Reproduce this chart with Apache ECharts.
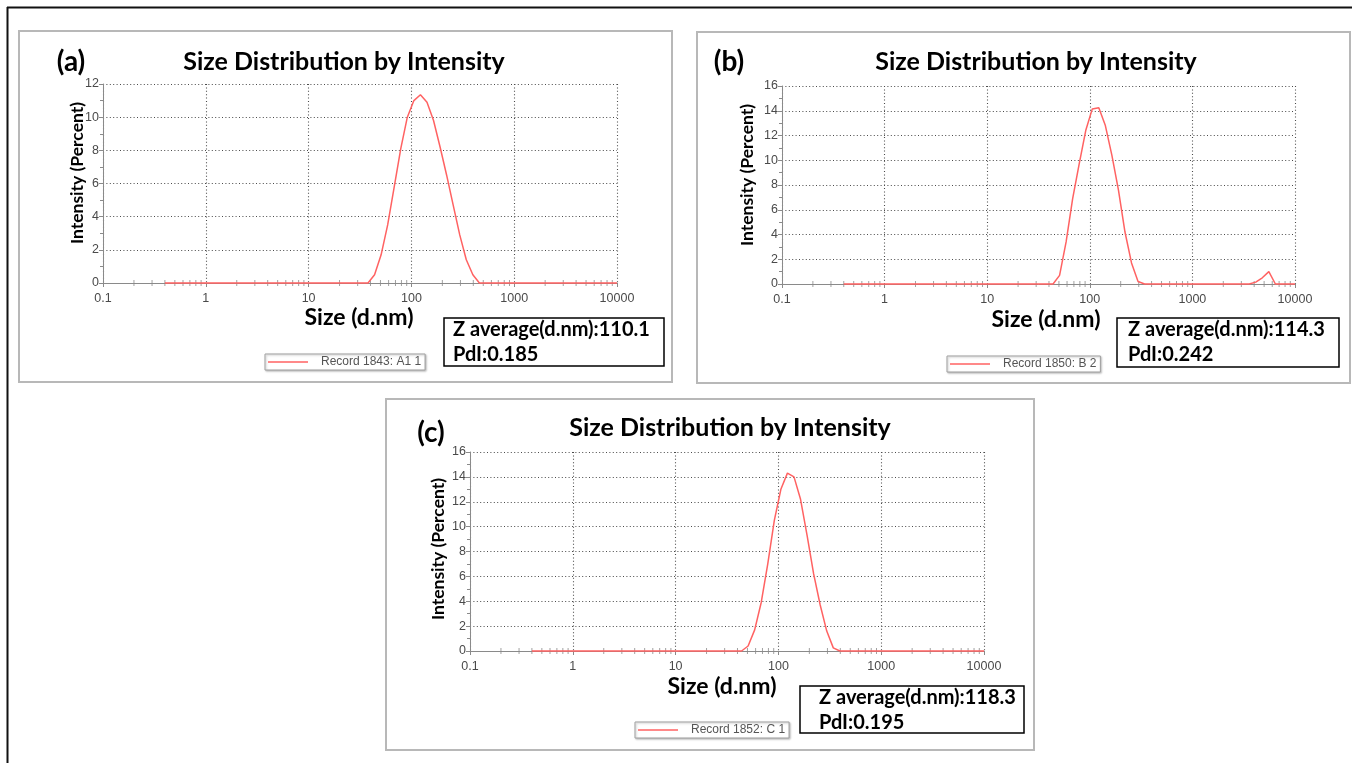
<!DOCTYPE html>
<html>
<head>
<meta charset="utf-8">
<script src="https://cdn.jsdelivr.net/npm/echarts@6/dist/echarts.min.js"></script>
<style>
  html, body { margin: 0; padding: 0; background: #fff; }
  #chart { width: 1352px; height: 763px; }
</style>
</head>
<body>
<div id="chart"></div>
<script>
// Size classes (d.nm) of the DLS intensity distribution
const sizeBins = [
  0.4, 0.4632, 0.5365, 0.6213, 0.7195, 0.8332, 0.9649, 1.117, 1.294, 1.499,
  1.736, 2.010, 2.328, 2.696, 3.122, 3.615, 4.187, 4.849, 5.615, 6.503,
  7.531, 8.721, 10.10, 11.70, 13.54, 15.69, 18.17, 21.04, 24.36, 28.21,
  32.67, 37.84, 43.82, 50.75, 58.77, 68.06, 78.82, 91.28, 105.7, 122.4,
  141.8, 164.2, 190.1, 220.2, 255.0, 295.3, 342.0, 396.1, 458.7, 531.2,
  615.1, 712.4, 825.0, 955.4, 1106, 1281, 1484, 1718, 1990, 2305,
  2669, 3091, 3580, 4145, 4801, 5560, 6439, 7456, 8635, 10000
];

// Intensity (%) per size class
const intensityA = [
  0, 0, 0, 0, 0, 0, 0, 0, 0, 0,
  0, 0, 0, 0, 0, 0, 0, 0, 0, 0,
  0, 0, 0, 0, 0, 0, 0, 0, 0, 0,
  0, 0, 0.5, 1.7, 3.5, 5.8, 8.1, 10.0, 11.0, 11.35,
  10.9, 9.8, 8.2, 6.5, 4.7, 2.9, 1.4, 0.5, 0, 0,
  0, 0, 0, 0, 0, 0, 0, 0, 0, 0,
  0, 0, 0, 0, 0, 0, 0, 0, 0, 0
];
const intensityB = [
  0, 0, 0, 0, 0, 0, 0, 0, 0, 0,
  0, 0, 0, 0, 0, 0, 0, 0, 0, 0,
  0, 0, 0, 0, 0, 0, 0, 0, 0, 0,
  0, 0, 0, 0.7, 3.4, 6.9, 9.7, 12.4, 14.15, 14.25,
  12.8, 10.4, 7.6, 4.2, 1.7, 0.2, 0, 0, 0, 0,
  0, 0, 0, 0, 0, 0, 0, 0, 0, 0,
  0, 0, 0, 0.15, 0.5, 1.0, 0, 0, 0, 0
];
const intensityC = [
  0, 0, 0, 0, 0, 0, 0, 0, 0, 0,
  0, 0, 0, 0, 0, 0, 0, 0, 0, 0,
  0, 0, 0, 0, 0, 0, 0, 0, 0, 0,
  0, 0, 0, 0.4, 1.7, 3.9, 7.0, 10.5, 13.0, 14.3,
  14.0, 12.2, 9.3, 6.2, 3.7, 1.6, 0.25, 0, 0, 0,
  0, 0, 0, 0, 0, 0, 0, 0, 0, 0,
  0, 0, 0, 0, 0, 0, 0, 0, 0, 0
];

const recordNames = ['Record 1843: A1 1', 'Record 1850: B 2', 'Record 1852: C 1'];
const panelLetters = ['(a)', '(b)', '(c)'];
const chartTitle = 'Size Distribution by Intensity';
const xAxisTitle = 'Size (d.nm)';
const yAxisTitle = 'Intensity (Percent)';
const zAverages = ['Z average(d.nm):110.1', 'Z average(d.nm):114.3', 'Z average(d.nm):118.3'];
const pdiValues = ['PdI:0.185', 'PdI:0.242', 'PdI:0.195'];
const yMaxes = [12, 16, 16];
const seriesValues = [intensityA, intensityB, intensityC];

// Layout of the three panels (pixels)
const panels = [
  { grid: { left: 103, top: 84, width: 514, height: 199 },
    box: [19, 31, 653, 351], letter: [71, 62], title: [344, 62],
    yName: [77, 173], xName: [359, 318],
    zBox: [444, 318, 220, 48], zText: 453,
    legend: { left: 265, top: 354 } },
  { grid: { left: 782, top: 86, width: 513, height: 198 },
    box: [697, 32, 653, 351], letter: [729, 62], title: [1036, 62],
    yName: [747, 175], xName: [1046, 320],
    zBox: [1117, 318, 222, 49], zText: 1128,
    legend: { left: 947, top: 356 } },
  { grid: { left: 470, top: 452, width: 514, height: 199 },
    box: [386, 399, 648, 351], letter: [431, 433], title: [730, 428],
    yName: [438, 549], xName: [722, 687],
    zBox: [800, 686, 224, 47], zText: 819,
    legend: { left: 635, top: 722 } }
];

const boldFont = 'Lato, "Open Sans", sans-serif';
const tickFont = '"Liberation Sans", Arial, sans-serif';
const curveColor = '#ff6262';
const axisGray = '#8a8a8a';
const gridDots = { color: '#4a4a4a', type: [1, 2.4], width: 1.1 };

// Minor ticks at 2..9 within each decade of the size axis
const minorTickSizes = [];
for (let d = 0.1; d < 10000; d *= 10) {
  for (let k = 2; k <= 9; k++) minorTickSizes.push([+(k * d).toPrecision(4), 0]);
}

const grids = [], xAxes = [], yAxes = [], series = [], legends = [], graphics = [];

// Page frame
graphics.push({ type: 'line', shape: { x1: 7, y1: 7.5, x2: 1352, y2: 7.5 }, style: { stroke: '#111', lineWidth: 2 } });
graphics.push({ type: 'line', shape: { x1: 7.5, y1: 7, x2: 7.5, y2: 763 }, style: { stroke: '#111', lineWidth: 2 } });

panels.forEach((p, i) => {
  grids.push(Object.assign({ containLabel: false }, p.grid));

  xAxes.push({
    type: 'log', logBase: 10, gridIndex: i, min: 0.1, max: 10000,
    axisLine: { show: true, lineStyle: { color: axisGray, width: 1 } },
    axisTick: { show: true, length: 4, lineStyle: { color: axisGray } },
    axisLabel: {
      color: '#4a4a4a', fontSize: 12.5, fontFamily: tickFont, margin: 9,
      formatter: v => String(+(+v).toPrecision(6))
    },
    splitLine: { show: true, lineStyle: gridDots }
  });

  yAxes.push({
    type: 'value', gridIndex: i, min: 0, max: yMaxes[i], interval: 2,
    axisLine: { show: true, lineStyle: { color: axisGray, width: 1 } },
    axisTick: { show: true, length: 4, lineStyle: { color: axisGray } },
    minorTick: { show: true, splitNumber: 2, length: 3, lineStyle: { color: axisGray } },
    axisLabel: { color: '#4a4a4a', fontSize: 12.5, fontFamily: tickFont, margin: 4 },
    splitLine: { show: true, lineStyle: gridDots }
  });

  series.push({
    type: 'scatter', xAxisIndex: i, yAxisIndex: i, data: minorTickSizes,
    symbol: 'rect', symbolSize: [1, 6], itemStyle: { color: axisGray },
    silent: true, z: 1, animation: false
  });

  series.push({
    name: recordNames[i], type: 'line', xAxisIndex: i, yAxisIndex: i,
    data: sizeBins.map((s, k) => [s, seriesValues[i][k]]),
    symbol: 'none', smooth: false, clip: false,
    lineStyle: { color: curveColor, width: 1.5 },
    itemStyle: { color: curveColor },
    z: 3, animation: false
  });

  legends.push({
    data: [{ name: recordNames[i], icon: 'rect' }],
    left: p.legend.left, top: p.legend.top,
    itemWidth: 40, itemHeight: 1.5, itemGap: 0,
    padding: [2, 4, 2, 3],
    backgroundColor: '#fff', borderColor: '#a0a0a0', borderWidth: 1,
    shadowColor: 'rgba(0,0,0,0.25)', shadowBlur: 2, shadowOffsetX: 1, shadowOffsetY: 1,
    selectedMode: false,
    textStyle: { fontSize: 12, color: '#555', fontFamily: tickFont, padding: [0, 0, 0, 8] }
  });

  // Panel frame
  graphics.push({
    type: 'rect', z: -10,
    shape: { x: p.box[0], y: p.box[1], width: p.box[2], height: p.box[3] },
    style: { fill: '#fff', stroke: '#b8b8b8', lineWidth: 2 }
  });
  // Panel letter and title
  graphics.push({ type: 'text', x: p.letter[0], y: p.letter[1],
    style: { text: panelLetters[i], font: 'bold 28px ' + boldFont, fill: '#000', align: 'center', verticalAlign: 'middle' } });
  graphics.push({ type: 'text', x: p.title[0], y: p.title[1],
    style: { text: chartTitle, font: 'bold 25px ' + boldFont, fill: '#000', align: 'center', verticalAlign: 'middle' } });
  // Axis titles
  graphics.push({ type: 'text', x: p.yName[0], y: p.yName[1], rotation: Math.PI / 2,
    style: { text: yAxisTitle, font: 'bold 17.5px ' + boldFont, fill: '#000', align: 'center', verticalAlign: 'middle' } });
  graphics.push({ type: 'text', x: p.xName[0], y: p.xName[1],
    style: { text: xAxisTitle, font: 'bold 23px ' + boldFont, fill: '#000', align: 'center', verticalAlign: 'middle' } });
  // Z-average / PdI box
  graphics.push({ type: 'rect',
    shape: { x: p.zBox[0], y: p.zBox[1], width: p.zBox[2], height: p.zBox[3] },
    style: { fill: '#fff', stroke: '#000', lineWidth: 1.5 } });
  graphics.push({ type: 'text', x: p.zText, y: p.zBox[1] + 12,
    style: { text: zAverages[i], font: 'bold 20px ' + boldFont, fill: '#000', align: 'left', verticalAlign: 'middle' } });
  graphics.push({ type: 'text', x: p.zText, y: p.zBox[1] + 37,
    style: { text: pdiValues[i], font: 'bold 20px ' + boldFont, fill: '#000', align: 'left', verticalAlign: 'middle' } });
});

const chart = echarts.init(document.getElementById('chart'), null, { renderer: 'canvas' });
chart.setOption({
  backgroundColor: '#fff',
  animation: false,
  grid: grids,
  xAxis: xAxes,
  yAxis: yAxes,
  legend: legends,
  series: series,
  graphic: { elements: graphics }
});
</script>
</body>
</html>
